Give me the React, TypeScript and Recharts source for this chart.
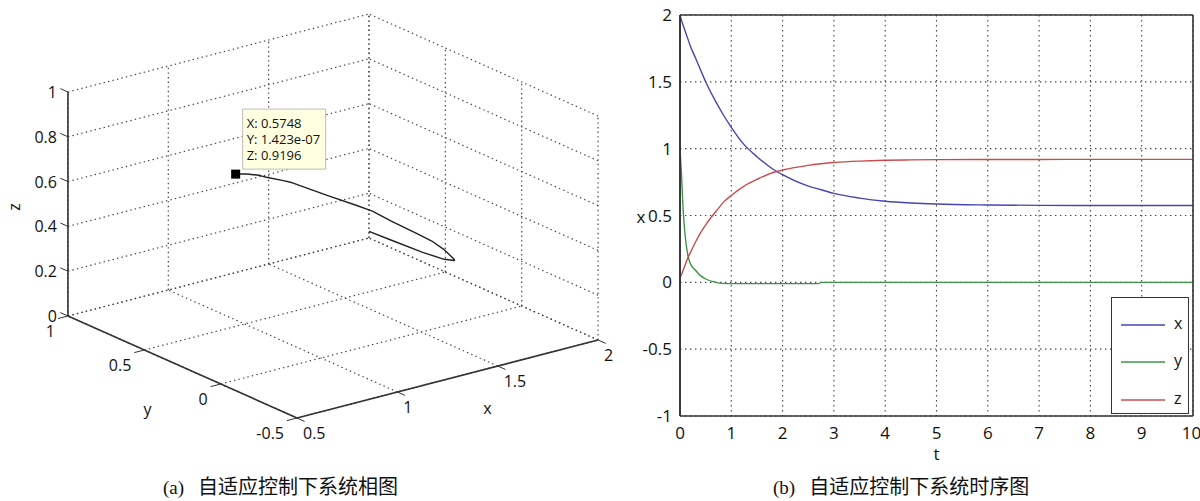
import React from "react";
import {
  ScatterChart,
  Scatter,
  XAxis,
  YAxis,
  LineChart,
  Line,
  CartesianGrid,
  ReferenceLine,
  Legend,
} from "recharts";

// time response
const tValues = [0, 0.03, 0.06, 0.1, 0.15, 0.2, 0.3, 0.4, 0.5, 0.7, 0.85, 1, 1.25, 1.5, 1.8, 2, 2.5, 2.7, 2.75, 3, 3.5, 4, 4.5, 5, 6, 7, 8, 9, 10];
const xValues = [2, 1.96, 1.925, 1.88, 1.825, 1.77, 1.68, 1.59, 1.5, 1.35, 1.25, 1.16, 1.03, 0.94, 0.85, 0.805, 0.72, 0.698, 0.693, 0.665, 0.63, 0.607, 0.594, 0.586, 0.579, 0.576, 0.5752, 0.575, 0.5748];
const yValues = [1, 0.8, 0.55, 0.35, 0.21, 0.14, 0.09, 0.05, 0.025, 0, -0.008, -0.01, -0.01, -0.01, -0.01, -0.01, -0.01, -0.01, 0, 0, 0, 0, 0, 0, 0, 0, 0, 0, 1.423e-7];
const zValues = [0.03, 0.06, 0.09, 0.13, 0.18, 0.22, 0.3, 0.37, 0.43, 0.53, 0.6, 0.65, 0.72, 0.77, 0.82, 0.84, 0.875, 0.885, 0.887, 0.896, 0.907, 0.913, 0.916, 0.918, 0.919, 0.9195, 0.9196, 0.9196, 0.9196];

const seriesNames = ["x", "y", "z"];
const seriesColors = ["#4646b0", "#3c9448", "#c94c4c"];

const tTicks = [0, 1, 2, 3, 4, 5, 6, 7, 8, 9, 10];
const valueTicks = [-1, -0.5, 0, 0.5, 1, 1.5, 2];

// 3d axes ticks (panel a)
const xTicks3d = [0.5, 1, 1.5, 2];
const yTicks3d = [-0.5, 0, 0.5, 1];
const zTicks3d = [0, 0.2, 0.4, 0.6, 0.8, 1];

const captionA = ["(a)", "自适应控制下系统相图"];
const captionB = ["(b)", "自适应控制下系统时序图"];

const FONT = "'Open Sans', 'DejaVu Sans', sans-serif";

// ---- 3d view: x/y/z box projected on the panel plane ----
const PANEL_W = 620;
const PANEL_H = 470;
const box = { x0: 0.5, x1: 2, y0: -0.5, y1: 1, z0: 0, z1: 1 };
const view = {
  ou: 297, ov: 418, // front-bottom corner (x0, y0, z0)
  xu: 200.7, xv: -52,
  yu: -152.7, yv: -68,
  zu: 0, zv: -224,
};

type P = { u: number; v: number; label?: string };

function project(x: number, y: number, z: number, label?: string): P {
  const dx = x - box.x0;
  const dy = y - box.y0;
  const dz = z - box.z0;
  return {
    u: view.ou + dx * view.xu + dy * view.yu + dz * view.zu,
    v: view.ov + dx * view.xv + dy * view.yv + dz * view.zv,
    label,
  };
}

const gridSegs: P[][] = [];
// floor
xTicks3d.forEach((x) => gridSegs.push([project(x, box.y0, 0), project(x, box.y1, 0)]));
yTicks3d.forEach((y) => gridSegs.push([project(box.x0, y, 0), project(box.x1, y, 0)]));
// back wall (y = y1)
xTicks3d.forEach((x) => gridSegs.push([project(x, box.y1, 0), project(x, box.y1, 1)]));
zTicks3d.forEach((z) => gridSegs.push([project(box.x0, box.y1, z), project(box.x1, box.y1, z)]));
// side wall (x = x1)
yTicks3d.forEach((y) => gridSegs.push([project(box.x1, y, 0), project(box.x1, y, 1)]));
zTicks3d.forEach((z) => gridSegs.push([project(box.x1, box.y0, z), project(box.x1, box.y1, z)]));

const axisSegs: P[][] = [
  [project(box.x0, box.y1, 0), project(box.x0, box.y1, 1)],
  [project(box.x0, box.y1, 0), project(box.x0, box.y0, 0)],
  [project(box.x0, box.y0, 0), project(box.x1, box.y0, 0)],
];

const tickSegs: P[][] = [
  ...zTicks3d.map((z) => [project(box.x0, box.y1, z), project(box.x0, box.y1 + 0.05, z)]),
  ...yTicks3d.map((y) => [project(box.x0, y, 0), project(box.x0 - 0.05, y, 0)]),
  ...xTicks3d.map((x) => [project(x, box.y0, 0), project(x, box.y0 - 0.05, 0)]),
];

const zLabels = zTicks3d.map((z) => project(box.x0, box.y1, z, String(z)));
const yLabels = yTicks3d.map((y) => project(box.x0, y, 0, String(y)));
const xLabels = xTicks3d.map((x) => project(x, box.y0, 0, String(x)));

const trajectory = tValues.map((_, i) => project(xValues[i], yValues[i], zValues[i]));
const last = tValues.length - 1;

function matlabExp(v: number) {
  return v.toExponential(3).replace(/e([+-])(\d)$/, "e$10$2");
}
const tipPoint = [
  {
    ...project(xValues[last], yValues[last], zValues[last]),
    lines: [
      `X: ${xValues[last].toFixed(4)}`,
      `Y: ${matlabExp(yValues[last])}`,
      `Z: ${zValues[last].toFixed(4)}`,
    ],
  },
];

const noDot = () => <g />;

const labelShape = (dx: number, dy: number, anchor: "start" | "middle" | "end") =>
  (p: any) => (
    <text
      x={p.cx + dx}
      y={p.cy + dy}
      textAnchor={anchor}
      dominantBaseline="central"
      fontSize={16}
      fontFamily={FONT}
      fill="#111"
    >
      {p.payload.label}
    </text>
  );

const tipShape = (p: any) => (
  <g>
    <rect x={p.cx - 4.5} y={p.cy - 4.5} width={9} height={9} fill="#000" />
    <rect x={p.cx + 7} y={p.cy - 65} width={83} height={60} fill="#ffffe1" stroke="#bdbdbd" />
    {p.payload.lines.map((s: string, i: number) => (
      <text
        key={s}
        x={p.cx + 11}
        y={p.cy - 51 + i * 16}
        dominantBaseline="central"
        fontSize={13}
        fontFamily={FONT}
        fill="#111"
      >
        {s}
      </text>
    ))}
  </g>
);

function PhasePortrait() {
  const mid = (a: P, b: P): P => ({ u: (a.u + b.u) / 2, v: (a.v + b.v) / 2 });
  const axisTitles = [
    { ...mid(axisSegs[0][0], axisSegs[0][1]), label: "z", dx: -54, dy: 3, rot: true },
    { ...mid(axisSegs[1][0], axisSegs[1][1]), label: "y", dx: -35, dy: 42, rot: false },
    { ...mid(axisSegs[2][0], axisSegs[2][1]), label: "x", dx: 40, dy: 29, rot: false },
  ];
  return (
    <ScatterChart width={PANEL_W} height={PANEL_H} margin={{ top: 0, right: 0, bottom: 0, left: 0 }}>
      <XAxis type="number" dataKey="u" domain={[0, PANEL_W]} allowDataOverflow hide />
      <YAxis type="number" dataKey="v" domain={[0, PANEL_H]} reversed allowDataOverflow hide />
      {gridSegs.map((seg, i) => (
        <Scatter
          key={`g${i}`}
          data={seg}
          shape={noDot}
          line={{ stroke: "#444", strokeWidth: 1.2, strokeDasharray: "1.4 3.2" }}
          legendType="none"
          isAnimationActive={false}
        />
      ))}
      {axisSegs.map((seg, i) => (
        <Scatter
          key={`a${i}`}
          data={seg}
          shape={noDot}
          line={{ stroke: "#333", strokeWidth: 1.6 }}
          legendType="none"
          isAnimationActive={false}
        />
      ))}
      {tickSegs.map((seg, i) => (
        <Scatter
          key={`t${i}`}
          data={seg}
          shape={noDot}
          line={{ stroke: "#333", strokeWidth: 1 }}
          legendType="none"
          isAnimationActive={false}
        />
      ))}
      <Scatter data={zLabels} shape={labelShape(-11, 0, "end")} legendType="none" isAnimationActive={false} />
      <Scatter data={yLabels} shape={labelShape(-13, 15, "end")} legendType="none" isAnimationActive={false} />
      <Scatter data={xLabels} shape={labelShape(6, 15, "start")} legendType="none" isAnimationActive={false} />
      <Scatter
        data={axisTitles}
        shape={(p: any) => (
          <text
            x={p.cx + p.payload.dx}
            y={p.cy + p.payload.dy}
            textAnchor="middle"
            dominantBaseline="central"
            fontSize={16}
            fontFamily={FONT}
            fill="#111"
            transform={p.payload.rot ? `rotate(-90 ${p.cx + p.payload.dx} ${p.cy + p.payload.dy})` : undefined}
          >
            {p.payload.label}
          </text>
        )}
        legendType="none"
        isAnimationActive={false}
      />
      <Scatter
        data={trajectory}
        shape={noDot}
        line={{ stroke: "#222", strokeWidth: 1.4, strokeLinejoin: "round" }}
        legendType="none"
        isAnimationActive={false}
      />
      <Scatter data={tipPoint} shape={tipShape} legendType="none" isAnimationActive={false} />
    </ScatterChart>
  );
}

const rows = tValues.map((t, i) => ({ t, x: xValues[i], y: yValues[i], z: zValues[i] }));

const renderLegend = (props: any) => (
  <div
    style={{
      width: 78,
      height: 117,
      boxSizing: "border-box",
      border: "1.5px solid #333",
      background: "#fff",
      paddingTop: 8,
    }}
  >
    {(props.payload || []).map((e: any) => (
      <div key={e.value} style={{ display: "flex", alignItems: "center", height: 37.5 }}>
        <svg width={62} height={10}>
          <line x1={9} y1={5} x2={53} y2={5} stroke={e.color} strokeWidth={1.6} />
        </svg>
        <span style={{ fontFamily: FONT, fontSize: 16, color: "#111", marginTop: -4 }}>{e.value}</span>
      </div>
    ))}
  </div>
);

function TimeSeries() {
  return (
    <LineChart width={600} height={PANEL_H} data={rows} margin={{ top: 15, right: 7, bottom: 0, left: 0 }}>
      <CartesianGrid stroke="#444" strokeWidth={1.1} strokeDasharray="1.4 3.6" />
      <XAxis
        dataKey="t"
        type="number"
        domain={[0, 10]}
        ticks={tTicks}
        allowDataOverflow
        height={54}
        tickLine={false}
        tickSize={0}
        tickMargin={11}
        axisLine={{ stroke: "#333", strokeWidth: 1.6 }}
        tick={{ fontSize: 17, fontFamily: FONT, fill: "#111" }}
        label={(p: any) => (
          <text
            x={p.viewBox.x + p.viewBox.width / 2}
            y={p.viewBox.y + 37}
            textAnchor="middle"
            dominantBaseline="central"
            fontSize={17}
            fontFamily={FONT}
            fill="#111"
          >
            t
          </text>
        )}
      />
      <YAxis
        type="number"
        domain={[-1, 2]}
        ticks={valueTicks}
        allowDataOverflow
        width={80}
        tickLine={false}
        tickSize={0}
        tickMargin={8}
        axisLine={{ stroke: "#333", strokeWidth: 1.6 }}
        tick={{ fontSize: 17, fontFamily: FONT, fill: "#111" }}
        label={(p: any) => (
          <text
            x={p.viewBox.x + 41}
            y={p.viewBox.y + p.viewBox.height / 2 + 1}
            textAnchor="middle"
            dominantBaseline="central"
            fontSize={17}
            fontFamily={FONT}
            fill="#111"
          >
            x
          </text>
        )}
      />
      {seriesNames.map((name, i) => (
        <Line
          key={name}
          dataKey={name}
          name={name}
          type="monotone"
          stroke={seriesColors[i]}
          strokeWidth={1.4}
          dot={false}
          isAnimationActive={false}
        />
      ))}
      <ReferenceLine x={0} stroke="#333" strokeWidth={1.6} />
      <ReferenceLine y={2} stroke="#333" strokeWidth={1.6} />
      <ReferenceLine x={10} stroke="#333" strokeWidth={1.6} />
      <Legend
        layout="vertical"
        align="center"
        verticalAlign="middle"
        content={renderLegend}
        wrapperStyle={{ left: 511, top: 297, width: 78, height: 117 }}
      />
    </LineChart>
  );
}

function Caption({ parts, left }: { parts: string[]; left: number }) {
  return (
    <div style={{ position: "absolute", left, top: 471, whiteSpace: "nowrap", color: "#111" }}>
      <span style={{ fontFamily: "'Liberation Serif', serif", fontSize: 19 }}>{parts[0]}</span>
      <span style={{ fontFamily: "'Noto Sans CJK SC', sans-serif", fontSize: 20, marginLeft: 14 }}>{parts[1]}</span>
    </div>
  );
}

export default function App() {
  return (
    <div style={{ position: "absolute", left: 0, top: 0, width: 1200, height: 501, background: "#fff" }}>
      <div style={{ position: "absolute", left: 0, top: 0 }}>
        <PhasePortrait />
      </div>
      <div style={{ position: "absolute", left: 600, top: 0 }}>
        <TimeSeries />
      </div>
      <Caption parts={captionA} left={163} />
      <Caption parts={captionB} left={773} />
    </div>
  );
}
